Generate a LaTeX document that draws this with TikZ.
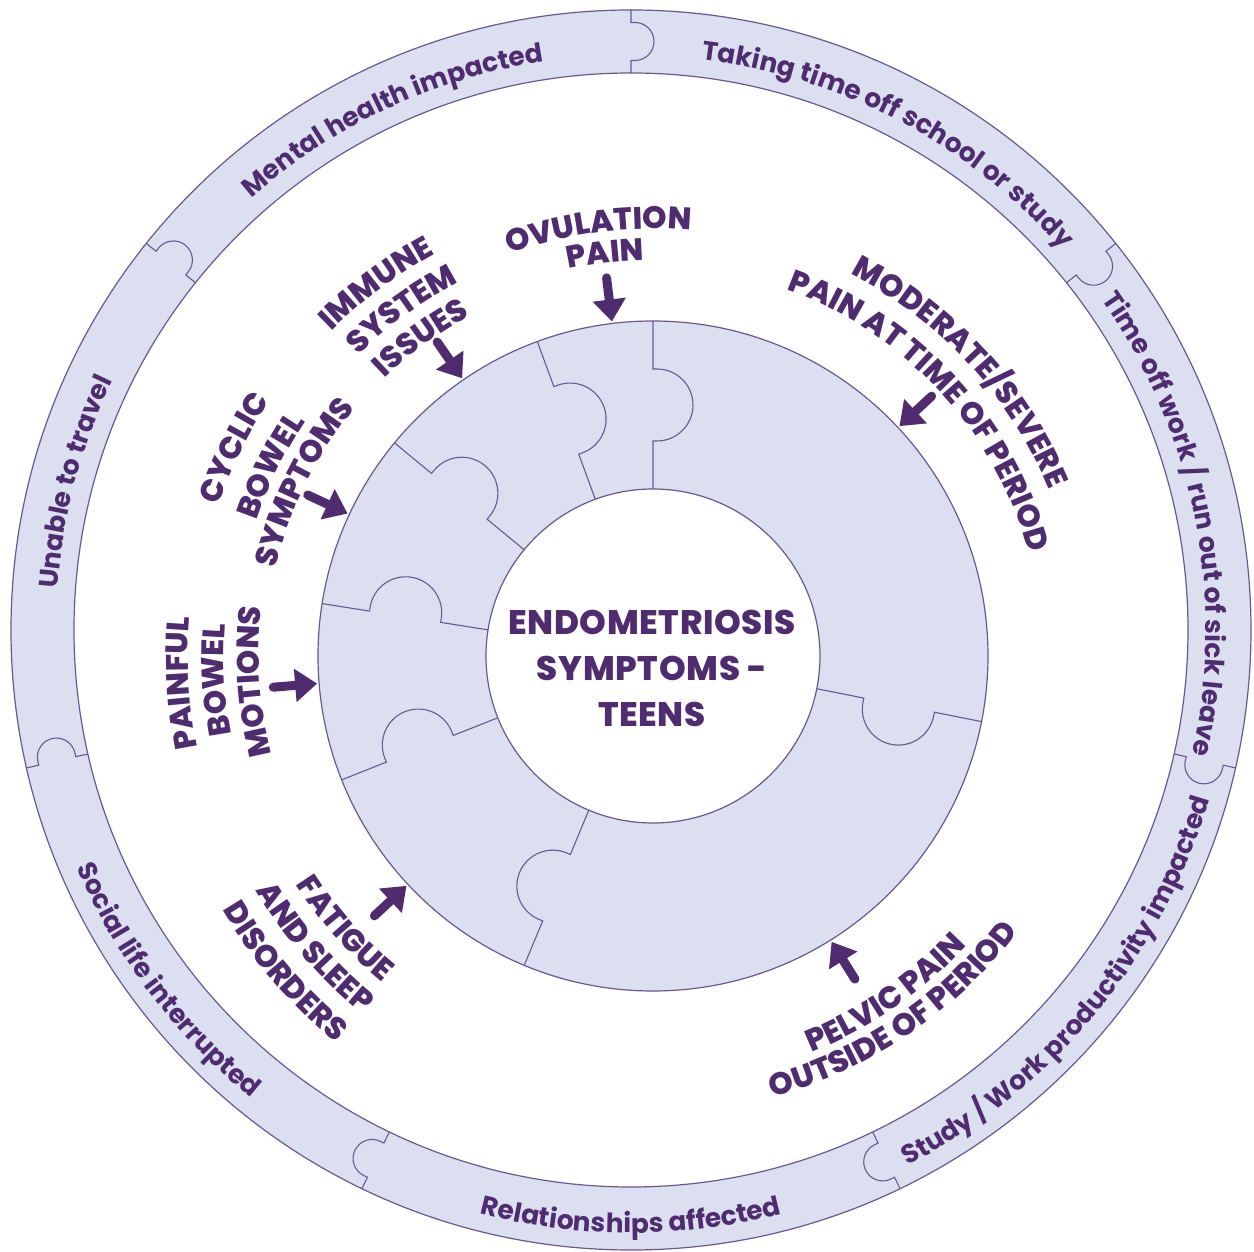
\documentclass[tikz,border=0pt]{standalone}
\usepackage{fontspec}
\setmainfont{Poppins}
\newfontfamily\ringf{Poppins Bold}
\newfontfamily\labf{Poppins ExtraBold}
\newfontfamily\titf{Poppins ExtraBold}[LetterSpace=2]
\usetikzlibrary{decorations.text,arrows.meta}
\definecolor{txt}{RGB}{79,44,112}
\definecolor{ringfill}{RGB}{219,223,239}
\definecolor{edge}{RGB}{106,88,148}
\newcommand\labfont{\labf\fontsize{31}{31}\selectfont}
\newcommand\ringfont{\ringf\fontsize{26.5}{26.5}\selectfont}
% clockwise text (tops outward): angle, radius, half span, font, text
\newcommand\cwtext[5]{%
  \pgfmathsetmacro\tA{#1+#3}%
  \pgfmathsetmacro\tB{#1-#3}%
  \path[decorate,decoration={text along path,text align=center,text color=txt,text={|#4|#5}}]
    (\tA:#2) arc[start angle=\tA,end angle=\tB,radius=#2];}
% counter-clockwise text (tops inward)
\newcommand\ccwtext[5]{%
  \pgfmathsetmacro\tA{#1-#3}%
  \pgfmathsetmacro\tB{#1+#3}%
  \path[decorate,decoration={text along path,text align=center,text color=txt,text={|#4|#5}}]
    (\tA:#2) arc[start angle=\tA,end angle=\tB,radius=#2];}
\begin{document}
\begin{tikzpicture}[x=1pt,y=1pt,
  seam/.style={draw=edge,line width=1.1pt},
  rim/.style={draw=edge,line width=1.2pt},
  arr/.style={draw=txt,fill=txt,line width=9pt,line cap=round,-{Triangle[length=22pt,width=32pt]}}]
\fill[white] (-631,-622) rectangle (623,630);
\useasboundingbox (-631,-622) rectangle (623,630);
% ---------- outer ring ----------
\fill[ringfill,even odd rule] (0,0) circle[radius=620] (0,0) circle[radius=557];
\draw[rim] (0,0) circle[radius=620] (0,0) circle[radius=557];
\foreach \k in {0,...,6}{
  \pgfmathsetmacro\ang{90-\k*360/7}
  \begin{scope}[rotate=\ang]
    \draw[seam] (557,0) -- (569.5,0) -- (569.5,-4) arc[start angle=180,end angle=360,radius=19] -- (607.5,0) -- (620,0);
  \end{scope}
}
\cwtext{115}{575}{50}{\ringfont}{Mental health impacted}
\cwtext{62.2}{575}{50}{\ringfont}{Taking time off school or study}
\cwtext{11.3}{575}{50}{\ringfont}{Time off work / run out of sick leave}
\cwtext{165.1}{575}{50}{\ringfont}{Unable to travel}
\ccwtext{-39.5}{603}{50}{\ringfont}{Study / Work productivity impacted}
\ccwtext{-90}{603}{50}{\ringfont}{Relationships affected}
\ccwtext{217.1}{603}{50}{\ringfont}{Social life interrupted}
% ---------- puzzle ring ----------
\begin{scope}[shift={(22,-26)}]
  \fill[ringfill,even odd rule] (0,0) circle[radius=335] (0,0) circle[radius=167];
  \draw[rim] (0,0) circle[radius=335] (0,0) circle[radius=167];
  \foreach \a in {90,110.2,140.5,171,201.7,247.4,348.7}{
    \begin{scope}[rotate=\a]
      \draw[seam] (167,0) -- (215,0) -- (215,-4) arc[start angle=180,end angle=360,radius=36] -- (287,0) -- (335,0);
    \end{scope}
  }
  \node[font=\titf\fontsize{34}{46}\selectfont,text=txt,align=center] (title) at (-1,-12) {ENDOMETRIOSIS\\SYMPTOMS -\\TEENS};
  % labels
  \cwtext{97.3}{427}{60}{\labfont}{OVULATION}
  \cwtext{96.8}{396}{60}{\labfont}{PAIN}
  \cwtext{42.7}{430}{60}{\labfont}{MODERATE/SEVERE}
  \cwtext{42.6}{390}{60}{\labfont}{PAIN AT TIME OF PERIOD}
  \cwtext{126.6}{457}{60}{\labfont}{IMMUNE}
  \cwtext{125.9}{421}{60}{\labfont}{SYSTEM}
  \cwtext{126.1}{386}{60}{\labfont}{ISSUES}
  \cwtext{153.6}{460}{60}{\labfont}{CYCLIC}
  \cwtext{153.6}{419}{60}{\labfont}{BOWEL}
  \cwtext{153.6}{387}{60}{\labfont}{SYMPTOMS}
  \cwtext{183.3}{465}{60}{\labfont}{PAINFUL}
  \cwtext{183.1}{429}{60}{\labfont}{BOWEL}
  \cwtext{183.7}{394}{60}{\labfont}{MOTIONS}
  \ccwtext{221.5}{424}{60}{\labfont}{FATIGUE}
  \ccwtext{220.7}{461}{60}{\labfont}{AND SLEEP}
  \ccwtext{220.6}{500}{60}{\labfont}{DISORDERS}
  \ccwtext{-55.5}{427}{60}{\labfont}{PELVIC PAIN}
  \ccwtext{-55.9}{457}{60}{\labfont}{OUTSIDE OF PERIOD}
  % arrows
  \foreach \n/\a in {ov/97,mo/43,im/124.5,cy/155,pa/184.7,fa/223,pe/-58}{
    \coordinate (\n s) at (\a:381);
    \coordinate (\n e) at (\a:337);
    \draw[arr] (\n s) -- (\n e);
  }
\end{scope}
\end{tikzpicture}
\end{document}
